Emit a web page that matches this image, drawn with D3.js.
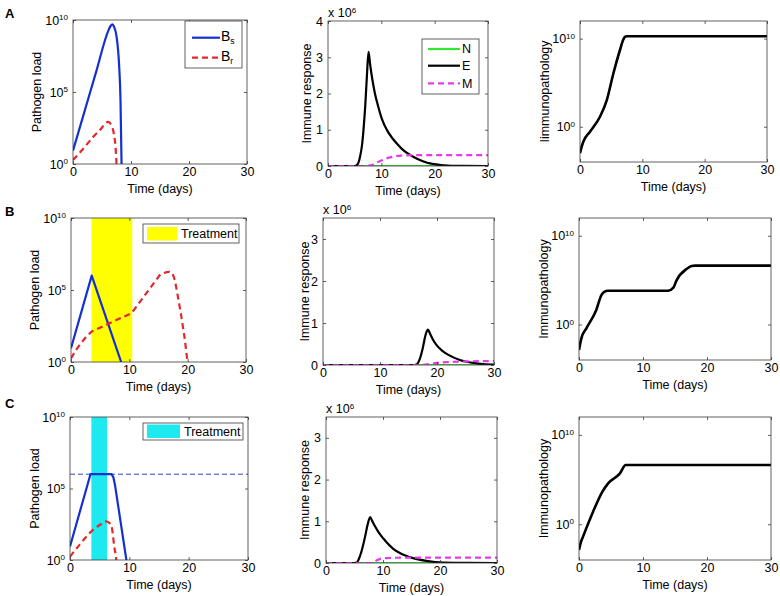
<!DOCTYPE html>
<html><head><meta charset="utf-8">
<script src="https://cdn.jsdelivr.net/npm/d3@7/dist/d3.min.js"></script>
<style>
body{margin:0;background:#fff;}
svg{display:block;font-family:"Liberation Sans",Arial,Helvetica,sans-serif;}
</style></head><body>
<svg id="c" width="780" height="596"></svg>
<script>
// ---------------- data ----------------
const timeDomain = [0, 30];
const timeTicks = [0, 10, 20, 30];
const loadTicks = [1e0, 1e5, 1e10];
const pathTicks = [1e0, 1e10];
const immuneTicksA = [0, 1e6, 2e6, 3e6, 4e6];
const immuneTicksBC = [0, 1e6, 2e6, 3e6];

// Row A (no treatment)
const A_Bs_t = [0, 2, 4, 6.06, 6.5, 6.8, 7.1, 7.5, 7.96, 8.19, 8.37, 8.6];
const A_Bs   = [8.5, 4.7e3, 2.6e6, 1.7e9, 4.0e9, 5.0e9, 3.2e9, 7.6e8, 6.0e6, 2.8e4, 1, 1e-3];
const A_Br_t = [0, 1.73, 3.46, 4.6, 6.06, 6.63, 7.04, 7.33, 7.5, 7.7];
const A_Br   = [1.9, 11, 74, 220, 830, 490, 126, 15, 1, 1e-3];
const A_N_t = [0, 30];
const A_N   = [0, 0];
const A_E_t = [0, 5, 5.4, 6, 6.4, 6.7, 7.0, 7.3, 7.6, 7.9, 8.3, 8.8, 9.4, 10.1, 11.06, 12.0, 12.9, 13.8, 14.8, 16.7, 18.6, 20, 21.7, 25, 30];
const A_E   = [0, 0, 0.02e6, 0.25e6, 0.6e6, 1.08e6, 1.7e6, 2.5e6, 3.15e6, 2.8e6, 2.4e6, 2.0e6, 1.65e6, 1.3e6, 0.99e6, 0.78e6, 0.62e6, 0.48e6, 0.36e6, 0.2e6, 0.09e6, 0.05e6, 0.02e6, 0.004e6, 0];
const A_M_t = [0, 7, 8, 9, 10, 11, 12, 13, 14, 16, 30];
const A_M   = [0, 0, 0.02e6, 0.08e6, 0.15e6, 0.21e6, 0.25e6, 0.28e6, 0.29e6, 0.3e6, 0.3e6];
const A_Path_t = [0, 0.3, 0.53, 1.6, 3.2, 4.3, 5.35, 6.4, 6.95, 7.2, 7.5, 30];
const A_Path   = [1e-3, 6.3e-3, 0.02, 0.27, 13.5, 1050, 1.1e6, 4.8e8, 7.9e9, 1.6e10, 1.86e10, 1.86e10];

// Row B (long treatment)
const B_treat = [3.5, 10.5];
const B_Bs_t = [0, 3.55, 8.6, 9.5];
const B_Bs   = [9.1, 1e6, 1, 0.085];
const B_Br_t = [0, 0.8, 1.6, 2.5, 3.55, 10.4, 15.3, 16.2, 16.9, 17.4, 17.8, 18.3, 18.9, 19.5, 19.9, 20.2];
const B_Br   = [1.8, 6.3, 17.8, 50, 132, 2510, 1.2e6, 1.66e6, 1.86e6, 1.4e6, 5e5, 4e4, 1585, 40, 1.8, 0.1];
const B_N_t = [0, 30];
const B_N   = [0, 0];
const B_E_t = [0, 16, 16.4, 17, 17.5, 18, 18.4, 18.8, 19.3, 20, 21, 22, 24, 26.9, 29.8, 30];
const B_E   = [0, 0, 0.01e6, 0.15e6, 0.4e6, 0.72e6, 0.84e6, 0.74e6, 0.6e6, 0.46e6, 0.33e6, 0.24e6, 0.12e6, 0.04e6, 0.01e6, 0.01e6];
const B_M_t = [0, 17, 18, 19, 20, 22, 25, 30];
const B_M   = [0, 0, 0.01e6, 0.03e6, 0.05e6, 0.07e6, 0.085e6, 0.095e6];
const B_Path_t = [0, 0.37, 1.15, 2.7, 3.5, 4.0, 4.5, 13.95, 14.74, 15.26, 16.8, 17.6, 18.1, 30];
const B_Path   = [1.35e-3, 0.0275, 0.37, 42.7, 2090, 5010, 6460, 6460, 1.41e4, 1.02e5, 1.78e6, 3.9e6, 4.27e6, 4.27e6];

// Row C (short treatment, threshold)
const C_treat = [3.6, 6.25];
const C_threshold = 1e6;
const C_Bs_t = [0, 3.45, 7.0, 7.3, 7.6, 9.5, 10.0];
const C_Bs   = [8.7, 1e6, 1e6, 6.3e5, 1.6e5, 1, 0.04];
const C_Br_t = [0, 1.6, 3.6, 5.0, 6.1, 6.6, 7.0, 7.5, 7.8, 8.0];
const C_Br   = [1.7, 11.5, 100, 280, 500, 400, 224, 6.6, 1, 0.03];
const C_N_t = [0, 30];
const C_N   = [0, 0];
const C_E_t = [0, 5, 5.4, 6.0, 6.5, 6.9, 7.3, 7.75, 8.1, 8.6, 9.3, 10.1, 11.8, 13.2, 14.7, 17.6, 20.6, 25, 30];
const C_E   = [0, 0, 0.01e6, 0.18e6, 0.42e6, 0.66e6, 0.92e6, 1.1e6, 1.01e6, 0.88e6, 0.72e6, 0.58e6, 0.34e6, 0.22e6, 0.14e6, 0.05e6, 0.01e6, 0.002e6, 0];
const C_M_t = [0, 8, 8.5, 9, 9.5, 10, 11, 12, 14, 30];
const C_M   = [0, 0, 0.03e6, 0.07e6, 0.1e6, 0.11e6, 0.12e6, 0.125e6, 0.13e6, 0.13e6];
const C_Path_t = [0, 0.3, 0.63, 2.2, 3.66, 4.55, 6.4, 7.3, 30];
const C_Path   = [1.3e-3, 0.01, 0.041, 25, 4470, 3.8e4, 5e5, 4.27e6, 4.27e6];

// ---------------- style ----------------
const COL = {blue: "#1530d2", red: "#e5262b", green: "#33e833", black: "#000", magenta: "#e83ae8",
             yellow: "#ffff00", cyan: "#1ee9ee", axis: "#3a3a3a"};
const FS = 12.5;

const svg = d3.select("#c");

function supText(sel, base, exp, expSize) {
  sel.append("tspan").text(base);
  sel.append("tspan").attr("dy", "-0.55em").attr("font-size", expSize || 8).text(exp);
}

function addPanel(cfg) {
  const [x0, x1, y0, y1] = cfg.box;
  const x = d3.scaleLinear().domain(timeDomain).range([x0, x1]);
  const y = (cfg.log ? d3.scaleLog() : d3.scaleLinear()).domain(cfg.yDomain).range([y1, y0]);
  const g = svg.append("g");
  const clipId = "clip-" + cfg.id;
  g.append("clipPath").attr("id", clipId).append("rect")
    .attr("x", x0).attr("y", y0).attr("width", x1 - x0).attr("height", y1 - y0);
  const plot = g.append("g").attr("clip-path", `url(#${clipId})`);
  if (cfg.band) {
    plot.append("rect").attr("x", x(cfg.band[0])).attr("width", x(cfg.band[1]) - x(cfg.band[0]))
      .attr("y", y0).attr("height", y1 - y0).attr("fill", cfg.bandColor);
  }
  if (cfg.hline !== undefined) {
    plot.append("line").attr("x1", x0).attr("x2", x1).attr("y1", y(cfg.hline)).attr("y2", y(cfg.hline))
      .attr("stroke", COL.blue).attr("stroke-width", 0.9).attr("stroke-dasharray", "5,3");
  }
  cfg.series.forEach(s => {
    const pts = s.t.map((t, i) => [t, s.v[i]]);
    const line = d3.line().x(d => x(d[0])).y(d => y(d[1])).curve(s.curve || d3.curveMonotoneX);
    plot.append("path").attr("d", line(pts)).attr("fill", "none").attr("stroke", s.color)
      .attr("stroke-width", s.width || 2.2).attr("stroke-dasharray", s.dash || null)
      .attr("stroke-linejoin", "round");
  });

  // axes
  const styleAxis = a => {
    a.select(".domain").remove();
    a.selectAll(".tick line").attr("stroke", COL.axis).attr("stroke-width", 0.8);
    a.attr("font-size", FS).attr("font-family", null);
    a.selectAll(".tick text").attr("fill", "#000");
  };
  const gx = g.append("g").attr("transform", `translate(0,${y1})`)
    .call(d3.axisBottom(x).tickValues(timeTicks).tickSizeInner(-3).tickSizeOuter(0).tickPadding(3));
  styleAxis(gx);
  const gxt = g.append("g").attr("transform", `translate(0,${y0})`)
    .call(d3.axisTop(x).tickValues(timeTicks).tickSizeInner(-3).tickSizeOuter(0).tickFormat(""));
  styleAxis(gxt);
  const yAxis = d3.axisLeft(y).tickValues(cfg.yTicks).tickSizeInner(-3).tickSizeOuter(0).tickPadding(5);
  if (!cfg.log) yAxis.tickFormat(d => d / 1e6);
  const gy = g.append("g").attr("transform", `translate(${x0},0)`).call(yAxis);
  styleAxis(gy);
  if (cfg.log) {
    gy.selectAll(".tick text").each(function (d) {
      const t = d3.select(this);
      t.text(null);
      supText(t, "10", Math.round(Math.log10(d)), 8);
    });
  }
  const gyr = g.append("g").attr("transform", `translate(${x1},0)`)
    .call(d3.axisRight(y).tickValues(cfg.yTicks).tickSizeInner(-3).tickSizeOuter(0).tickFormat(""));
  styleAxis(gyr);

  g.append("rect").attr("x", x0).attr("y", y0).attr("width", x1 - x0).attr("height", y1 - y0)
    .attr("fill", "none").attr("stroke", COL.axis).attr("stroke-width", 0.8);

  // labels
  g.append("text").attr("x", (x0 + x1) / 2).attr("y", y1 + 29).attr("text-anchor", "middle")
    .attr("font-size", FS).text("Time (days)");
  g.append("text").attr("transform", `translate(${cfg.ylabX},${(y0 + y1) / 2}) rotate(-90)`)
    .attr("text-anchor", "middle").attr("dy", "0.35em").attr("font-size", FS).text(cfg.ylabel);
  if (!cfg.log) {
    const t = g.append("text").attr("x", x0).attr("y", y0 - 4).attr("font-size", FS);
    supText(t, "x 10", "6", 8);
  }
  return {x, y, g};
}

function legendLines(box, items, textX, sampleX, fs) {
  const g = svg.append("g");
  g.append("rect").attr("x", box[0]).attr("y", box[1]).attr("width", box[2] - box[0]).attr("height", box[3] - box[1])
    .attr("fill", "#fff").attr("stroke", COL.axis).attr("stroke-width", 0.8);
  items.forEach(it => {
    g.append("line").attr("x1", sampleX[0]).attr("x2", sampleX[1]).attr("y1", it.y).attr("y2", it.y)
      .attr("stroke", it.color).attr("stroke-width", 2.2).attr("stroke-dasharray", it.dash || null);
    const t = g.append("text").attr("x", textX).attr("y", it.y).attr("dy", it.sub ? "0.2em" : "0.35em").attr("font-size", fs || FS);
    t.append("tspan").text(it.label);
    if (it.sub) t.append("tspan").attr("dy", "0.45em").attr("font-size", 8.5).text(it.sub);
  });
}

function legendPatch(box, swatch, color, label) {
  const g = svg.append("g");
  g.append("rect").attr("x", box[0]).attr("y", box[1]).attr("width", box[2] - box[0]).attr("height", box[3] - box[1])
    .attr("fill", "#fff").attr("stroke", COL.axis).attr("stroke-width", 0.8);
  g.append("rect").attr("x", swatch[0]).attr("y", swatch[1]).attr("width", swatch[2] - swatch[0])
    .attr("height", swatch[3] - swatch[1]).attr("fill", color);
  g.append("text").attr("x", swatch[2] + 4).attr("y", (box[1] + box[3]) / 2).attr("dy", "0.35em")
    .attr("font-size", FS).text(label);
}

const loadSeries = (bs_t, bs, br_t, br, linear) => [
  {t: bs_t, v: bs, color: COL.blue, curve: linear ? d3.curveLinear : d3.curveMonotoneX},
  {t: br_t, v: br, color: COL.red, dash: "6,4", curve: linear ? d3.curveLinear : d3.curveMonotoneX}
];
const immuneSeries = (n_t, n, e_t, e, m_t, m) => [
  {t: n_t, v: n, color: COL.green, curve: d3.curveLinear},
  {t: e_t, v: e, color: COL.black},
  {t: m_t, v: m, color: COL.magenta, dash: "6,4"}
];

// Row A
addPanel({id: "a1", box: [73, 247, 20, 164], log: true, yDomain: [1, 1e10], yTicks: loadTicks,
  ylabel: "Pathogen load", ylabX: 37, series: loadSeries(A_Bs_t, A_Bs, A_Br_t, A_Br, false)});
addPanel({id: "a2", box: [328, 488, 21, 166], log: false, yDomain: [0, 4e6], yTicks: immuneTicksA,
  ylabel: "Immune response", ylabX: 307, series: immuneSeries(A_N_t, A_N, A_E_t, A_E, A_M_t, A_M)});
addPanel({id: "a3", box: [580, 767, 21, 162], log: true, yDomain: [1e-4, 1e12], yTicks: pathTicks,
  ylabel: "Iimmunopathology", ylabX: 545, series: [{t: A_Path_t, v: A_Path, color: COL.black, width: 2.6}]});

// Row B
addPanel({id: "b1", box: [71, 246, 218, 362], log: true, yDomain: [1, 1e10], yTicks: loadTicks,
  band: B_treat, bandColor: COL.yellow,
  ylabel: "Pathogen load", ylabX: 35, series: loadSeries(B_Bs_t, B_Bs, B_Br_t, B_Br, true)});
addPanel({id: "b2", box: [323, 494, 218, 365], log: false, yDomain: [0, 3.5e6], yTicks: immuneTicksBC,
  ylabel: "Immune response", ylabX: 305, series: immuneSeries(B_N_t, B_N, B_E_t, B_E, B_M_t, B_M)});
addPanel({id: "b3", box: [579, 771, 218, 360], log: true, yDomain: [1e-4, 1e12], yTicks: pathTicks,
  ylabel: "Immunopathology", ylabX: 544, series: [{t: B_Path_t, v: B_Path, color: COL.black, width: 2.6}]});

// Row C
addPanel({id: "c1", box: [70, 248, 417, 560], log: true, yDomain: [1, 1e10], yTicks: loadTicks,
  band: C_treat, bandColor: COL.cyan, hline: C_threshold,
  ylabel: "Pathogen load", ylabX: 35, series: [
    {t: C_Bs_t, v: C_Bs, color: COL.blue, curve: d3.curveLinear},
    {t: C_Br_t, v: C_Br, color: COL.red, dash: "6,4"}]});
addPanel({id: "c2", box: [326, 497, 417, 563], log: false, yDomain: [0, 3.5e6], yTicks: immuneTicksBC,
  ylabel: "Immune response", ylabX: 305, series: immuneSeries(C_N_t, C_N, C_E_t, C_E, C_M_t, C_M)});
addPanel({id: "c3", box: [579, 771, 417, 560], log: true, yDomain: [1e-4, 1e12], yTicks: pathTicks,
  ylabel: "Immunopathology", ylabX: 544, series: [{t: C_Path_t, v: C_Path, color: COL.black, width: 2.6}]});

// Legends
legendLines([185, 21, 242, 68], [
  {y: 37.7, color: COL.blue, label: "B", sub: "s"},
  {y: 57.7, color: COL.red, dash: "6,4", label: "B", sub: "r"}
], 221, [192, 220], 14);
legendLines([422, 39, 479, 94], [
  {y: 49, color: COL.green, label: "N"},
  {y: 65.7, color: COL.black, label: "E"},
  {y: 83.3, color: COL.magenta, dash: "6,4", label: "M"}
], 462, [428, 460]);
legendPatch([143, 224, 239, 243], [147, 227, 177, 240.5], COL.yellow, "Treatment");
legendPatch([143, 423, 243, 440], [147, 424.5, 180, 438], COL.cyan, "Treatment");

// Panel letters
[["A", 5, 18], ["B", 5, 216], ["C", 5, 408]].forEach(([l, x, y]) => {
  svg.append("text").attr("x", x).attr("y", y).attr("font-size", 13).attr("font-weight", "bold").text(l);
});
</script>
</body></html>
